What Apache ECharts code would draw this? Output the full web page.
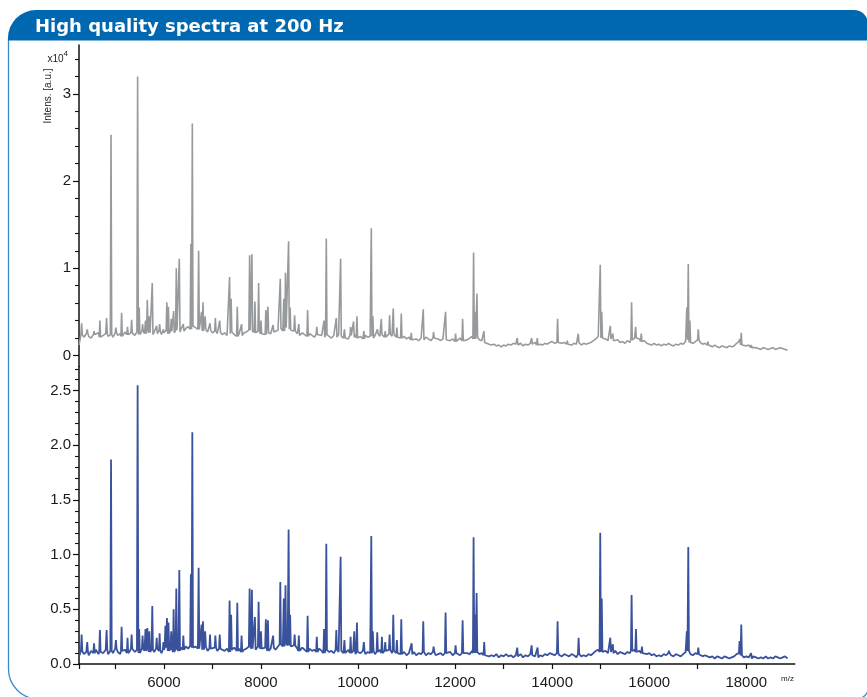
<!DOCTYPE html>
<html><head><meta charset="utf-8">
<script src="https://cdn.jsdelivr.net/npm/echarts@6/dist/echarts.min.js"></script>
<style>html,body{margin:0;padding:0;background:#fff}#c{width:867px;height:697px}</style>
</head><body><div id="c"></div><script>
const TITLE = 'High quality spectra at 200 Hz';
const Y_NAME = 'Intens. [a.u.]';
const Y_SCALE = 'x10';
const Y_EXP = '4';
const X_NAME = 'm/z';
const MZ_MIN = 4250, MZ_MAX = 19000;
const BASE_START = 4250, BASE_STEP = 50;
const X_TICKS = [4250,5000,6000,7000,8000,9000,10000,11000,12000,13000,14000,15000,16000,17000,18000];
const X_LABELS = [6000,8000,10000,12000,14000,16000,18000];
const TOP_LABELS = [0,1,2,3];
const TOP_MINOR = [0.2,0.4,0.6,0.8,1.2,1.4,1.6,1.8,2.2,2.4,2.6,2.8,3.2,3.4];
const BOT_LABELS = [0,0.5,1.0,1.5,2.0,2.5];
const BOT_MINOR = [0.1,0.2,0.3,0.4,0.6,0.7,0.8,0.9,1.1,1.2,1.3,1.4,1.6,1.7,1.8,1.9,2.1,2.2,2.3,2.4,2.6,2.7];

// baseline (noise) samples, every 50 Da from 4250, in units of 10^4
const grayBase = [
0.12,0.24,0.21,0.25,0.22,0.20,0.24,0.22,0.26,0.21,
0.23,0.25,0.22,0.24,0.21,0.26,0.23,0.25,0.22,0.27,
0.24,0.22,0.26,0.23,0.27,0.24,0.28,0.25,0.29,0.26,
0.24,0.27,0.25,0.28,0.24,0.26,0.29,0.25,0.28,0.26,
0.29,0.27,0.30,0.28,0.31,0.33,0.30,0.34,0.32,0.30,
0.31,0.28,0.30,0.27,0.29,0.26,0.28,0.25,0.27,0.24,
0.26,0.23,0.25,0.27,0.24,0.22,0.25,0.23,0.26,0.27,
0.29,0.27,0.30,0.26,0.28,0.25,0.27,0.24,0.26,0.25,
0.27,0.26,0.29,0.31,0.28,0.32,0.30,0.29,0.27,0.28,
0.25,0.23,0.26,0.24,0.22,0.25,0.23,0.21,0.24,0.22,
0.23,0.21,0.24,0.22,0.20,0.23,0.21,0.24,0.22,0.20,
0.22,0.19,0.23,0.21,0.24,0.20,0.22,0.19,0.23,0.21,
0.22,0.20,0.23,0.25,0.22,0.24,0.21,0.23,0.25,0.22,
0.24,0.21,0.23,0.20,0.22,0.19,0.21,0.18,0.20,0.19,
0.17,0.20,0.18,0.21,0.19,0.17,0.20,0.18,0.19,0.17,
0.19,0.18,0.20,0.17,0.19,0.16,0.18,0.20,0.17,0.19,
0.18,0.20,0.22,0.19,0.21,0.18,0.17,0.15,0.14,0.13,
0.12,0.13,0.11,0.12,0.10,0.12,0.11,0.13,0.12,0.14,
0.13,0.12,0.14,0.11,0.13,0.12,0.14,0.13,0.15,0.12,
0.13,0.12,0.14,0.13,0.15,0.16,0.14,0.15,0.13,0.14,
0.15,0.13,0.14,0.12,0.14,0.13,0.15,0.12,0.14,0.13,
0.14,0.15,0.17,0.19,0.22,0.20,0.18,0.19,0.17,0.19,
0.17,0.16,0.18,0.15,0.16,0.14,0.17,0.15,0.18,0.20,
0.18,0.19,0.16,0.17,0.14,0.13,0.12,0.14,0.12,0.13,
0.11,0.13,0.12,0.14,0.12,0.11,0.13,0.12,0.14,0.13,
0.16,0.18,0.15,0.14,0.16,0.18,0.15,0.13,0.14,0.12,
0.11,0.10,0.12,0.10,0.09,0.11,0.10,0.09,0.11,0.10,
0.11,0.14,0.16,0.12,0.10,0.11,0.12,0.09,0.08,0.09,
0.08,0.07,0.09,0.08,0.07,0.08,0.09,0.07,0.08,0.09,
0.08,0.07,0.06
];
const grayPeaks = [
[4304,0.37],[4420,0.30],[4560,0.28],[4681,0.40],[4819,0.43],[4910,2.53],[5010,0.32],[5128,0.49],
[5250,0.33],[5334,0.41],[5458,3.20],[5490,0.55],[5560,0.36],[5620,0.40],[5658,0.64],[5700,0.45],
[5760,0.83],[5850,0.34],[5911,0.36],[5990,0.30],[6060,0.61],[6092,0.56],[6150,0.42],[6200,0.51],
[6255,1.00],[6317,1.11],[6400,0.36],[6555,1.28],[6585,2.66],[6715,1.20],[6775,0.50],[6805,0.61],
[6850,0.45],[6950,0.37],[7060,0.43],[7150,0.40],[7353,0.90],[7385,0.65],[7512,0.56],[7600,0.36],
[7766,1.15],[7813,1.16],[7875,0.62],[7951,0.83],[8000,0.40],[8100,0.52],[8143,0.56],[8250,0.35],
[8398,0.88],[8470,0.65],[8505,0.95],[8569,1.31],[8600,0.55],[8693,0.46],[8780,0.36],[8961,0.52],
[9150,0.33],[9300,0.40],[9346,1.34],[9552,0.43],[9641,1.11],[9720,0.30],[9847,0.33],[9908,0.39],
[9977,0.45],[10120,0.28],[10273,1.46],[10305,0.45],[10400,0.30],[10479,0.42],[10560,0.28],[10650,0.46],
[10726,0.54],[10800,0.32],[10891,0.48],[11097,0.26],[11344,0.53],[11557,0.27],[11804,0.50],[12010,0.25],
[12155,0.42],[12381,1.18],[12412,0.50],[12450,0.71],[12594,0.28],[13281,0.20],[13577,0.20],[13693,0.20],
[14112,0.42],[14312,0.17],[14538,0.25],[14991,1.04],[15022,0.50],[15198,0.34],[15250,0.25],[15637,0.61],
[15720,0.33],[15836,0.25],[16775,0.55],[16805,1.05],[16838,0.40],[17011,0.30],[17210,0.16],[17862,0.19],
[17897,0.26],[18103,0.12]
];
const blueBase = [
0.07,0.12,0.09,0.11,0.08,0.12,0.10,0.13,0.09,0.11,
0.10,0.13,0.09,0.12,0.10,0.14,0.11,0.09,0.12,0.13,
0.10,0.12,0.14,0.11,0.13,0.10,0.14,0.12,0.15,0.11,
0.13,0.11,0.14,0.12,0.10,0.13,0.15,0.12,0.14,0.11,
0.14,0.12,0.15,0.13,0.16,0.14,0.17,0.15,0.16,0.14,
0.15,0.13,0.16,0.12,0.14,0.13,0.15,0.12,0.14,0.13,
0.12,0.14,0.11,0.13,0.15,0.12,0.14,0.11,0.13,0.14,
0.16,0.14,0.15,0.13,0.16,0.14,0.13,0.15,0.12,0.14,
0.15,0.13,0.16,0.18,0.16,0.19,0.17,0.16,0.15,0.17,
0.14,0.12,0.15,0.13,0.11,0.14,0.12,0.13,0.11,0.14,
0.12,0.10,0.13,0.11,0.12,0.10,0.13,0.11,0.12,0.10,
0.11,0.13,0.10,0.12,0.09,0.11,0.10,0.12,0.09,0.11,
0.10,0.12,0.09,0.11,0.13,0.10,0.12,0.11,0.13,0.10,
0.12,0.10,0.11,0.09,0.11,0.08,0.10,0.09,0.11,0.08,
0.10,0.09,0.11,0.08,0.10,0.09,0.11,0.08,0.09,0.10,
0.08,0.10,0.09,0.11,0.08,0.10,0.09,0.08,0.10,0.09,
0.10,0.09,0.12,0.10,0.11,0.09,0.10,0.08,0.09,0.07,
0.08,0.07,0.09,0.06,0.08,0.07,0.09,0.07,0.08,0.06,
0.08,0.07,0.09,0.06,0.08,0.07,0.09,0.08,0.07,0.06,
0.08,0.07,0.09,0.08,0.10,0.09,0.08,0.10,0.08,0.07,
0.09,0.08,0.07,0.09,0.08,0.06,0.09,0.07,0.08,0.07,
0.09,0.08,0.10,0.12,0.13,0.11,0.10,0.12,0.10,0.11,
0.10,0.12,0.09,0.11,0.10,0.09,0.11,0.10,0.12,0.13,
0.11,0.12,0.10,0.11,0.09,0.10,0.08,0.09,0.07,0.08,
0.07,0.09,0.08,0.10,0.08,0.07,0.09,0.08,0.07,0.09,
0.11,0.12,0.09,0.08,0.10,0.09,0.08,0.07,0.08,0.07,
0.06,0.07,0.05,0.07,0.06,0.05,0.07,0.06,0.05,0.06,
0.07,0.09,0.10,0.08,0.06,0.07,0.06,0.05,0.07,0.06,
0.05,0.06,0.05,0.07,0.05,0.06,0.05,0.07,0.06,0.05,
0.06,0.07,0.05
];
const bluePeaks = [
[4304,0.27],[4420,0.20],[4560,0.19],[4681,0.31],[4819,0.31],[4910,1.87],[5010,0.22],[5128,0.34],
[5250,0.24],[5334,0.27],[5458,2.55],[5490,0.32],[5560,0.26],[5620,0.32],[5658,0.33],[5700,0.30],
[5760,0.53],[5850,0.24],[5911,0.28],[5990,0.20],[6030,0.35],[6062,0.42],[6094,0.38],[6150,0.30],
[6200,0.50],[6255,0.69],[6317,0.86],[6400,0.26],[6555,0.82],[6585,2.12],[6715,0.88],[6775,0.36],
[6805,0.39],[6850,0.30],[6950,0.27],[7060,0.26],[7150,0.27],[7353,0.58],[7385,0.45],[7512,0.56],
[7600,0.26],[7766,0.69],[7813,0.68],[7875,0.43],[7951,0.57],[8000,0.30],[8100,0.41],[8143,0.40],
[8250,0.26],[8398,0.75],[8470,0.60],[8505,0.72],[8569,1.23],[8600,0.45],[8693,0.27],[8780,0.26],
[8961,0.44],[9150,0.25],[9300,0.32],[9346,1.10],[9552,0.31],[9641,0.98],[9720,0.22],[9847,0.25],
[9922,0.30],[9977,0.38],[10120,0.20],[10273,1.17],[10305,0.30],[10396,0.29],[10492,0.25],[10560,0.20],
[10650,0.27],[10726,0.45],[10800,0.22],[10891,0.41],[11104,0.19],[11344,0.39],[11557,0.16],[11804,0.47],
[12010,0.17],[12155,0.40],[12381,1.16],[12412,0.45],[12443,0.65],[12600,0.20],[13281,0.15],[13577,0.17],
[13700,0.15],[14112,0.39],[14545,0.24],[14991,1.20],[15022,0.60],[15198,0.24],[15250,0.18],[15637,0.63],
[15727,0.32],[15850,0.16],[16407,0.12],[16775,0.30],[16805,1.07],[17011,0.15],[17862,0.21],[17897,0.36],
[18100,0.10]
];

const PEAK_HALF_WIDTH = 14;
function build(base, peaks, w) {
  const pts = [];
  base.forEach((v, i) => {
    const mz = BASE_START + i * BASE_STEP;
    if (!peaks.some(p => Math.abs(p[0] - mz) <= w)) pts.push([mz, v]);
  });
  peaks.forEach(([mz, h]) => {
    const i = Math.max(0, Math.min(base.length - 1, Math.round((mz - BASE_START) / BASE_STEP)));
    const b = base[i];
    pts.push([mz - w, b], [mz, h], [mz + w, b]);
  });
  pts.sort((a, b) => a[0] - b[0]);
  return pts;
}

const AXIS_COLOR = '#111';
const LABEL_FONT = '"Liberation Sans", Arial, Helvetica, sans-serif';
const chart = echarts.init(document.getElementById('c'), null, {renderer: 'canvas'});

function yAxes(grid, min, max, labels, minor, fmt) {
  return [{
    type: 'value', gridIndex: grid, min: min, max: max, position: 'left',
    axisLine: {show: true, onZero: false, lineStyle: {color: AXIS_COLOR, width: 1.5}},
    axisTick: {show: true, customValues: labels, length: 6, lineStyle: {color: AXIS_COLOR, width: 1.2}},
    axisLabel: {show: true, customValues: labels, formatter: fmt, fontSize: 15, color: '#1a1a1a', fontFamily: LABEL_FONT, margin: 8},
    splitLine: {show: false}
  }, {
    type: 'value', gridIndex: grid, min: min, max: max, position: 'left',
    axisLine: {show: false},
    axisTick: {show: true, customValues: minor, length: 4, lineStyle: {color: AXIS_COLOR, width: 1.1}},
    axisLabel: {show: false},
    splitLine: {show: false}
  }];
}

const option = {
  animation: false,
  backgroundColor: '#fff',
  grid: [
    {left: 79, top: 45, width: 715.8, height: 321.4},
    {left: 79, top: 366.6, width: 715.8, height: 297.4}
  ],
  xAxis: [
    {type: 'value', gridIndex: 0, min: MZ_MIN, max: MZ_MAX, show: false},
    {type: 'value', gridIndex: 1, min: MZ_MIN, max: MZ_MAX,
     axisLine: {show: true, onZero: false, lineStyle: {color: AXIS_COLOR, width: 1.5}},
     axisTick: {show: true, customValues: X_TICKS, length: 5, lineStyle: {color: AXIS_COLOR, width: 1.2}},
     axisLabel: {show: true, customValues: X_LABELS, formatter: v => String(v), fontSize: 15, color: '#1a1a1a', fontFamily: LABEL_FONT, margin: 11},
     splitLine: {show: false}}
  ],
  yAxis: [].concat(
    yAxes(0, -0.125, 3.56, TOP_LABELS, TOP_MINOR, v => String(Math.round(v))),
    yAxes(1, 0, 2.72, BOT_LABELS, BOT_MINOR, v => v.toFixed(1))
  ),
  series: [
    {type: 'line', xAxisIndex: 0, yAxisIndex: 0, data: build(grayBase, grayPeaks, PEAK_HALF_WIDTH),
     showSymbol: false, symbol: 'none', sampling: null, lineStyle: {color: '#979a9c', width: 1.6}, silent: true},
    {type: 'line', xAxisIndex: 1, yAxisIndex: 2, data: build(blueBase, bluePeaks, PEAK_HALF_WIDTH),
     showSymbol: false, symbol: 'none', sampling: null, lineStyle: {color: '#3a529b', width: 1.8}, silent: true}
  ],
  graphic: [
    {type: 'rect', silent: true, z: 1, shape: {x: 8.5, y: 38, width: 860, height: 661, r: [0, 0, 12, 30]},
     style: {fill: 'none', stroke: '#3589cc', lineWidth: 1.3}},
    {type: 'rect', silent: true, z: 2, shape: {x: 8, y: 10, width: 860, height: 30.5, r: [28, 14, 0, 0]},
     style: {fill: '#0068b1'}},
    {type: 'text', silent: true, z: 3, left: 35, top: 18,
     style: {text: TITLE, fill: '#fff', font: 'bold 18px "DejaVu Sans", sans-serif'}},
    {type: 'text', silent: true, z: 3, x: 48, y: 96, rotation: Math.PI / 2,
     style: {text: Y_NAME, fill: '#222', font: '10px "Liberation Sans", Arial, sans-serif', align: 'center', verticalAlign: 'middle'}},
    {type: 'text', silent: true, z: 3, x: 47.5, y: 59.5,
     style: {text: Y_SCALE, fill: '#222', font: '10px "Liberation Sans", Arial, sans-serif', align: 'left', verticalAlign: 'middle'}},
    {type: 'text', silent: true, z: 3, x: 63.5, y: 53.5,
     style: {text: Y_EXP, fill: '#222', font: '8px "Liberation Sans", Arial, sans-serif', align: 'left', verticalAlign: 'middle'}},
    {type: 'text', silent: true, z: 3, x: 781, y: 679,
     style: {text: X_NAME, fill: '#222', font: '8px "Liberation Sans", Arial, sans-serif', align: 'left', verticalAlign: 'middle'}}
  ]
};
chart.setOption(option);
</script></body></html>
